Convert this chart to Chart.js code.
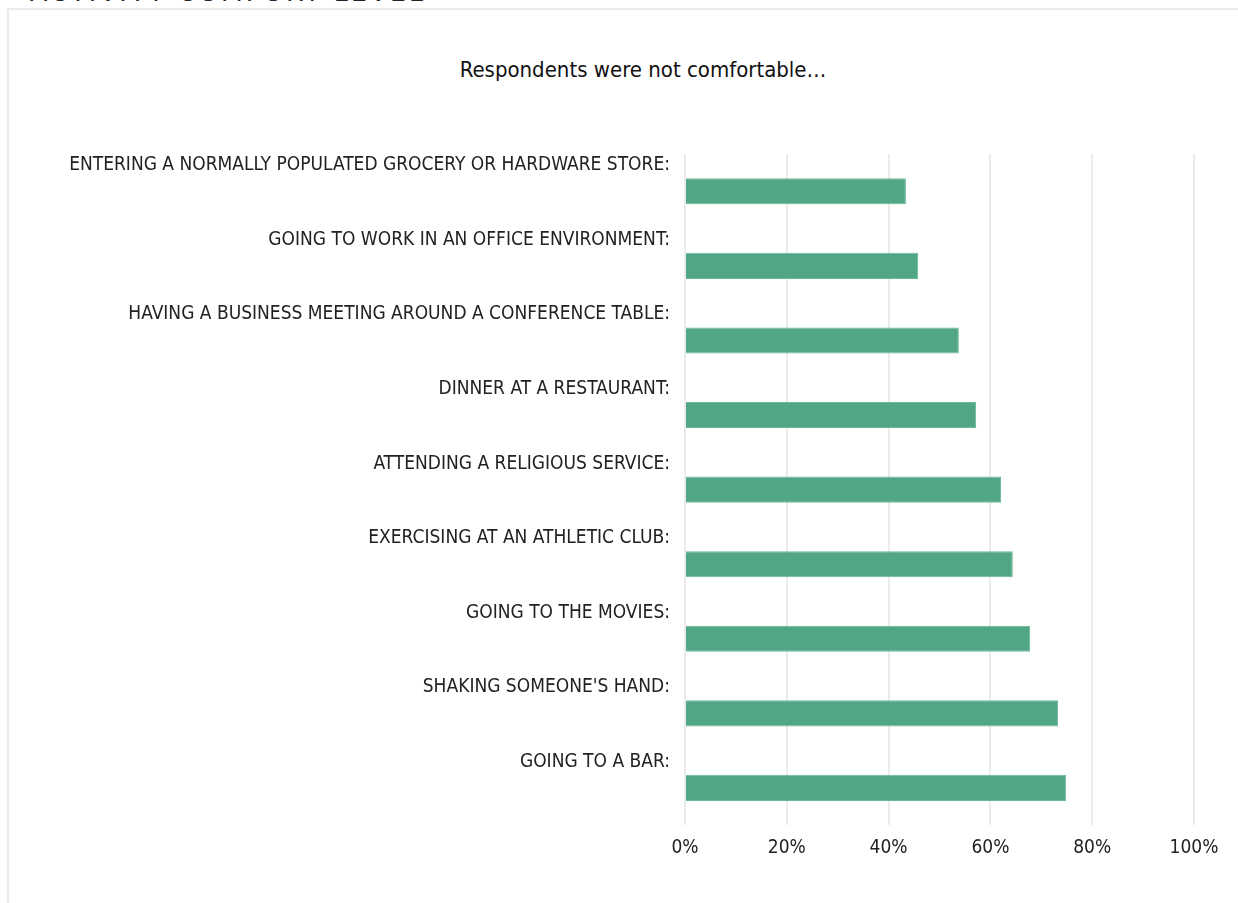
<!DOCTYPE html>
<html lang="en">
<head>
    <meta charset="UTF-8">
    <title>Activity Comfort Level</title>
    <script src="https://cdn.jsdelivr.net/npm/chart.js"></script>
    <style>
        body { margin: 0; background: #fff; overflow: hidden; width: 1238px; height: 903px; position: relative; }
        .page-title { position: absolute; left: 30px; top: -25px; font-family: 'Liberation Sans Narrow', 'DejaVu Sans Condensed', sans-serif; font-size: 28px; font-weight: normal; letter-spacing: 3px; color: #222; margin: 0; }
        .box { position: absolute; left: 7px; top: 8px; width: 1300px; height: 960px; border: 2px solid #ebebeb; }
        .chart-title { position: absolute; left: 343px; width: 600px; top: 56px; text-align: center; font-family: 'Liberation Sans Narrow', 'DejaVu Sans Condensed', sans-serif; font-size: 22px; line-height: 28px; color: #111; }
        #wrap { position: absolute; left: 10px; top: 10px; width: 1266px; height: 893px; }
    </style>
</head>
<body>
    <h2 class="page-title">ACTIVITY COMFORT LEVEL</h2>
    <div class="box"></div>
    <div class="chart-title">Respondents were not comfortable…</div>
    <div id="wrap"><canvas id="comfort-chart"></canvas></div>

    <script>
        // Share of respondents not comfortable with each activity
        const activities = [
            'ENTERING A NORMALLY POPULATED GROCERY OR HARDWARE STORE:',
            'GOING TO WORK IN AN OFFICE ENVIRONMENT:',
            'HAVING A BUSINESS MEETING AROUND A CONFERENCE TABLE:',
            'DINNER AT A RESTAURANT:',
            'ATTENDING A RELIGIOUS SERVICE:',
            'EXERCISING AT AN ATHLETIC CLUB:',
            'GOING TO THE MOVIES:',
            "SHAKING SOMEONE'S HAND:",
            'GOING TO A BAR:'
        ];
        const notComfortable = [43.4, 45.8, 53.8, 57.2, 62.1, 64.4, 67.8, 73.3, 74.9];
        const percentTicks = [0, 20, 40, 60, 80, 100];

        const fontFamily = "'Liberation Sans Narrow', 'DejaVu Sans Condensed', sans-serif";

        new Chart(document.getElementById('comfort-chart'), {
            type: 'bar',
            data: {
                labels: activities,
                datasets: [{
                    label: 'Not comfortable',
                    data: notComfortable,
                    backgroundColor: '#51a685',
                    borderColor: '#6cb898',
                    borderWidth: 1,
                    barPercentage: 1,
                    categoryPercentage: 0.35
                }]
            },
            options: {
                indexAxis: 'y',
                responsive: true,
                maintainAspectRatio: false,
                animation: false,
                layout: { padding: { top: 144, left: 0, right: 82, bottom: 33 } },
                plugins: {
                    legend: { display: false },
                    tooltip: { enabled: false }
                },
                scales: {
                    x: {
                        min: 0,
                        max: 100,
                        afterBuildTicks: (scale) => { scale.ticks = percentTicks.map(v => ({ value: v })); },
                        grid: { color: '#ebebeb', lineWidth: 2, drawTicks: false },
                        border: { display: false },
                        ticks: {
                            padding: 11,
                            color: '#222',
                            font: { family: fontFamily, size: 19 },
                            callback: (v) => v + '%'
                        }
                    },
                    y: {
                        afterFit: (scale) => { scale.width = 675; },
                        grid: { display: false, drawTicks: false },
                        border: { display: false },
                        ticks: {
                            padding: 15,
                            labelOffset: -26,
                            color: '#222',
                            font: { family: fontFamily, size: 19 }
                        }
                    }
                }
            }
        });
    </script>
</body>
</html>
